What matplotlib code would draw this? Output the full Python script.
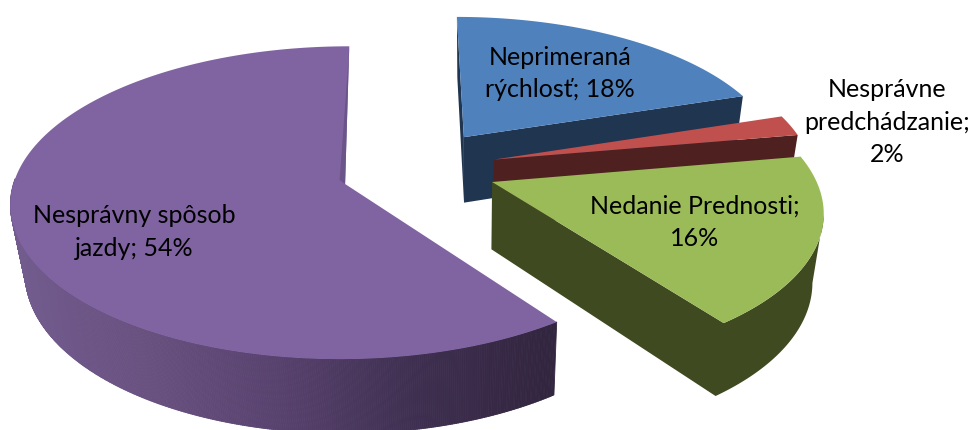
import numpy as np
import matplotlib
matplotlib.use("Agg")
import matplotlib.pyplot as plt
from matplotlib.patches import Polygon
from matplotlib.collections import PolyCollection
from matplotlib.colors import LinearSegmentedColormap

categories = ["Neprimeraná rýchlosť", "Nesprávne predchádzanie", "Nedanie Prednosti", "Nesprávny spôsob jazdy"]
values = [18, 2, 16, 54]
label_texts = ["Neprimeraná\nrýchlosť; 18%", "Nesprávne\npredchádzanie;\n2%", "Nedanie Prednosti;\n16%", "Nesprávny spôsob\njazdy; 54%"]
label_pos = [(560, 73.5), (887, 122), (695, 222), (134, 232)]
top_colors = ["#4f81bd", "#c0504d", "#9bbb59", "#8064a2"]
side_colors = ["#1f3550", "#4f2020", "#3f4a21", "#3a2c4a"]

# explosion offset of each slice (plane units) and radius terms
offsets = [(0.241, 0.316), (0.33, 0.162), (0.319, 0.013), (-0.127, 0.0)]
radii = [(0.973, 0.05), (0.975, 0.0), (0.985, 0.061), (1.005, 0.008)]

VX, VY, H, S, P = 387.0, -1198.0, 1382.0, 330.0, 0.111


def project(X, Y):
    w = 1 + P * Y
    return VX + S * X / w, VY + H / w


def drop(x, y):
    return 470 + (x - 470) * 0.968, y + 60 + 0.04 * y


def arc(i, t0, t1, n=400):
    th = np.radians(np.linspace(t0, t1, n))
    r = radii[i][0] - radii[i][1] * np.cos(th)
    return project(offsets[i][0] + r * np.sin(th), offsets[i][1] + r * np.cos(th))


fig = plt.figure(figsize=(9.73, 4.30), dpi=100)
ax = fig.add_axes([0, 0, 1, 1])
ax.set_xlim(0, 973)
ax.set_ylim(430, 0)
ax.axis("off")
plt.rcParams["font.family"] = ["Lato", "DejaVu Sans"]

edges = np.concatenate([[0], np.cumsum(values)]) / np.sum(values) * 360
rim_cmap = LinearSegmentedColormap.from_list(
    "rim", ["#32253f", "#3e2f50", "#57416d", "#68507f", "#725c8e"])

for i in range(len(values)):
    t0, t1 = edges[i], edges[i + 1]
    z = i * 3 + 1
    px, py = project(*offsets[i])
    xs, ys = arc(i, t0, t1)
    bx, by = drop(xs, ys)
    abx, aby = drop(px, py)
    if i == 0:
        # narrow left face and front cut face
        ax.add_patch(Polygon([(xs[0], ys[0]), (px, py), (abx, aby), (bx[0], by[0])],
                             closed=True, fc=side_colors[i], ec="none", zorder=z))
    if i < 2:
        ax.add_patch(Polygon([(px, py), (xs[-1], ys[-1]), (bx[-1], by[-1]), (abx, aby)],
                             closed=True, fc=side_colors[i], ec="none", zorder=z))
    elif i == 2:
        # outer wall and front cut face as one shape
        rx, ry = arc(i, t0 + 22, t1)
        dx, dy = drop(rx, ry)
        ax.add_patch(Polygon(np.column_stack([np.r_[px, rx[::-1], dx, abx], np.r_[py, ry[::-1], dy, aby]]),
                             closed=True, fc=side_colors[i], ec="none", zorder=z))
    else:
        rx, ry = arc(i, t0, 272)
        dx, dy = drop(rx, ry)
        quads = [[(rx[k], ry[k]), (rx[k + 1], ry[k + 1]), (dx[k + 1], dy[k + 1]), (dx[k], dy[k])]
                 for k in range(len(rx) - 1)]
        cols = rim_cmap(np.clip((rx[:-1] - 550) / (13 - 550), 0, 1))
        ax.add_collection(PolyCollection(quads, facecolors=cols, edgecolors=cols, linewidths=0.6, zorder=z))
    ax.add_patch(Polygon(np.column_stack([np.r_[px, xs], np.r_[py, ys]]),
                         closed=True, fc=top_colors[i], ec="none", zorder=z + 1))
    if i == 3:
        ax.add_patch(Polygon([(xs[-1], ys[-1]), (px, py), (px - 5.5, py - 4), (xs[-1] - 2, ys[-1] + 30)],
                             closed=True, fc="#6b5488", ec="none", zorder=z + 2))

for txt, (x, y) in zip(label_texts, label_pos):
    ax.text(x, y, txt, ha="center", va="center", fontsize=18, color="black",
            family=["Lato", "DejaVu Sans"], linespacing=1.5, zorder=30)

fig.savefig("out.png", dpi=100)
